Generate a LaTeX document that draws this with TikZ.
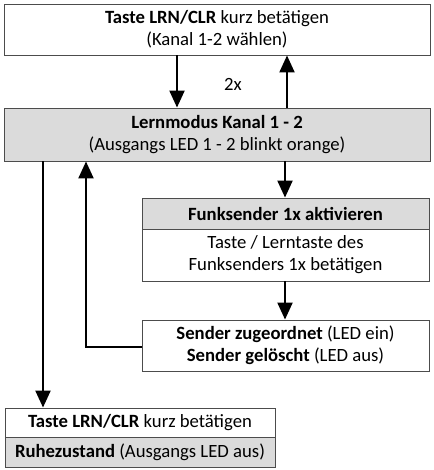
\documentclass[tikz,border=0pt]{standalone}
\usepackage{fontspec}
\setmainfont{Carlito}
\usetikzlibrary{arrows.meta}
\tikzset{
  box/.style={draw=black!70, line width=0.9pt, inner sep=0pt, align=center, font=\fontsize{18.7}{22}\selectfont},
  graybox/.style={box, fill=black!14},
  flow/.style={line width=2.2pt, -{Triangle[length=17pt,width=15pt]}},
}
\begin{document}
\begin{tikzpicture}[x=1pt,y=-1pt]
\useasboundingbox (0,0) rectangle (433,470);
\node[box, minimum width=426pt, minimum height=51pt] (top) at (217,29.5) {\textbf{Taste LRN/CLR} kurz betätigen\\(Kanal 1-2 wählen)};
\node[graybox, minimum width=426pt, minimum height=53pt] (lern) at (217,134.5) {\textbf{Lernmodus Kanal 1 - 2}\\(Ausgangs LED 1 - 2 blinkt orange)};
\node[graybox, minimum width=287pt, minimum height=31pt] (funkh) at (285.5,213.5) {\textbf{Funksender 1x aktivieren}};
\node[box, minimum width=287pt, minimum height=52pt] (funkb) at (285.5,255) {Taste / Lerntaste des\\Funksenders 1x betätigen};
\node[box, minimum width=287pt, minimum height=51pt] (send) at (285.5,345.5) {\textbf{Sender zugeordnet} (LED ein)\\\textbf{Sender gelöscht} (LED aus)};
\node[box, minimum width=270pt, minimum height=29pt] (bot1) at (140,422.5) {\textbf{Taste LRN/CLR} kurz betätigen};
\node[graybox, minimum width=270pt, minimum height=30pt] (bot2) at (140,452) {\textbf{Ruhezustand} (Ausgangs LED aus)};
\node[font=\fontsize{18.7}{22}\selectfont] (twox) at (233,84) {2x};
\coordinate (xa) at (177,0);
\coordinate (xb) at (287,0);
\coordinate (xc) at (285,0);
\coordinate (xd) at (86,347);
\coordinate (xe) at (43,0);
\draw[flow] (top.south -| xa) -- (lern.north -| xa);
\draw[flow] (lern.north -| xb) -- (top.south -| xb);
\draw[flow] (lern.south -| xc) -- (funkh.north -| xc);
\draw[flow] (funkb.south -| xc) -- (send.north -| xc);
\draw[flow] (send.west |- xd) -- (xd) -- (lern.south -| xd);
\draw[flow] (lern.south -| xe) -- (bot1.north -| xe);
\end{tikzpicture}
\end{document}
